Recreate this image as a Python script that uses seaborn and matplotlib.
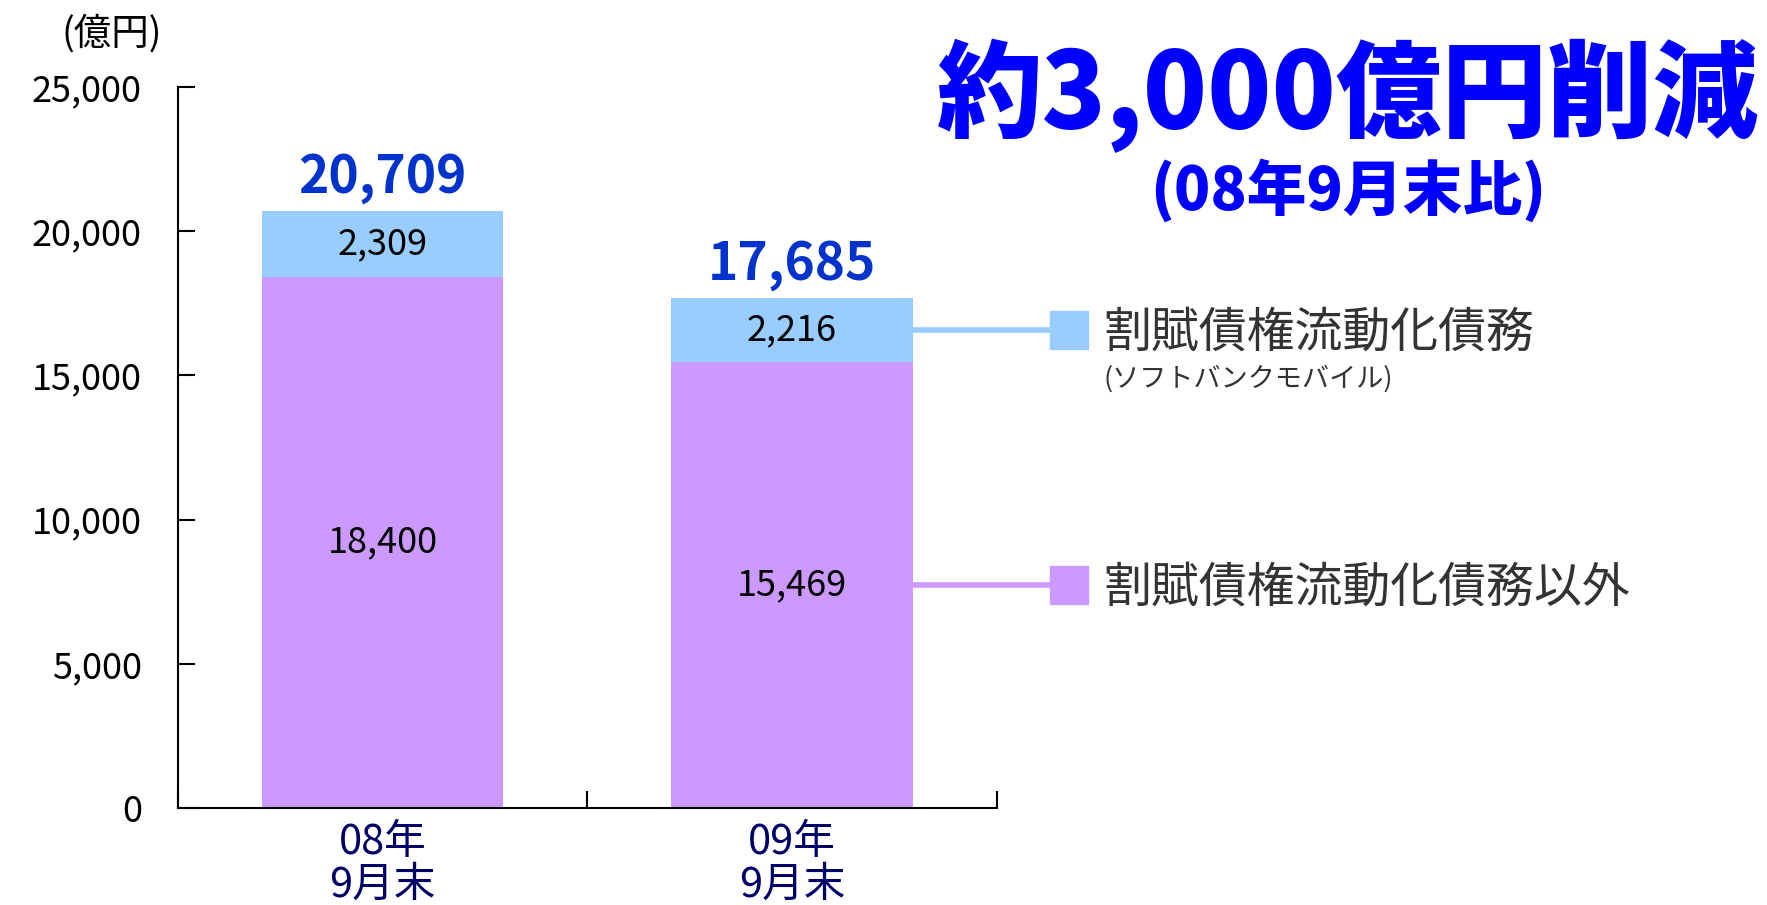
import numpy as np
import pandas as pd
import matplotlib
matplotlib.use("Agg")
import matplotlib.pyplot as plt
import seaborn as sns

# data
periods = ["08年9月末", "09年9月末"]
period_labels = ["08年\n9月末", "09年\n9月末"]
securitized = [2309, 2216]          # 割賦債権流動化債務
other_debt = [18400, 15469]         # 割賦債権流動化債務以外
totals = [a + b for a, b in zip(securitized, other_debt)]
yticks = [0, 5000, 10000, 15000, 20000, 25000]

name_top = "割賦債権流動化債務"
name_top_sub = "(ソフトバンクモバイル)"
name_bottom = "割賦債権流動化債務以外"
headline = "約3,000億円削減"
headline_sub = "(08年9月末比)"
unit = "(億円)"

c_top = "#99CCFF"
c_bottom = "#CC99FF"

df = pd.DataFrame({"period": periods, "top": securitized,
                   "bottom": other_debt, "total": totals})

sns.set_theme(style="white")
plt.rcParams["font.family"] = ["Noto Sans CJK JP", "DejaVu Sans"]

fig = plt.figure(figsize=(17.67, 9.05), dpi=100)
ax = fig.add_axes([0.1007, 0.107, 0.4633, 0.797])

# stacked bars: total first, lower segment drawn over it
sns.barplot(data=df, x="period", y="total", color=c_top, saturation=1,
            width=0.59, linewidth=0, ax=ax)
sns.barplot(data=df, x="period", y="bottom", color=c_bottom, saturation=1,
            width=0.59, linewidth=0, ax=ax)

ax.set_xlim(-0.5, 1.5)
ax.set_ylim(0, 25000)
ax.set_xlabel("")
ax.set_ylabel("")

# segment labels and totals
for i in range(len(periods)):
    ax.text(i, other_debt[i] / 2, f"{other_debt[i]:,}", ha="center",
            va="center", fontsize=26, color="black")
    ax.text(i, other_debt[i] + securitized[i] / 2, f"{securitized[i]:,}",
            ha="center", va="center", fontsize=26, color="black")
    ax.text(i, totals[i] + 1150, f"{totals[i]:,}", ha="center", va="center",
            fontsize=37, fontweight="bold", color="#0033CC")

# axes styling
for s in ["top", "right"]:
    ax.spines[s].set_visible(False)
for s in ["left", "bottom"]:
    ax.spines[s].set_color("black")
    ax.spines[s].set_linewidth(1.5)

ax.set_yticks(yticks)
ax.set_yticklabels([f"{v:,}" for v in yticks])
ax.tick_params(axis="y", direction="in", length=12, width=1.5,
               labelsize=26, pad=26, left=True, colors="black")

ax.set_xticks(range(len(periods)))
ax.set_xticklabels(period_labels, fontsize=30, color="#000066",
                   linespacing=1.05)
ax.set_xticks([-0.5, 0.5, 1.5], minor=True)
ax.tick_params(axis="x", which="major", length=0, pad=10)
ax.tick_params(axis="x", which="minor", direction="in", length=12,
               width=1.5, bottom=True, color="black")

# legend with connector lines from the second bar
x_sq = 1.676
x_txt = 1.761
mid_top = other_debt[1] + securitized[1] / 2
mid_bottom = other_debt[1] / 2
ax.plot([1 + 0.295, x_sq], [mid_top, mid_top], color=c_top, lw=4,
        clip_on=False, solid_capstyle="butt")
ax.plot([1 + 0.295, x_sq], [mid_bottom, mid_bottom], color=c_bottom, lw=4,
        clip_on=False, solid_capstyle="butt")
ax.plot(x_sq, mid_top, marker="s", ms=28, color=c_top, clip_on=False)
ax.plot(x_sq, mid_bottom, marker="s", ms=28, color=c_bottom, clip_on=False)
ax.text(x_txt, mid_top - 100, name_top, ha="left", va="center",
        fontsize=34.5, color="#333333")
ax.text(x_txt, 14880, name_top_sub, ha="left", va="center",
        fontsize=19.5, color="#333333")
ax.text(x_txt, mid_bottom - 100, name_bottom, ha="left", va="center",
        fontsize=34.5, color="#333333")

# headline and unit
fig.text(0.763, 0.894, headline, ha="center", va="center", fontsize=76,
         fontweight="heavy", color="#0000FF")
fig.text(0.763, 0.79, headline_sub, ha="center", va="center", fontsize=43,
         fontweight="heavy", color="#0000FF")
fig.text(0.0634, 0.962, unit, ha="center", va="center", fontsize=27,
         color="black")

fig.savefig("out.png", dpi=100)
